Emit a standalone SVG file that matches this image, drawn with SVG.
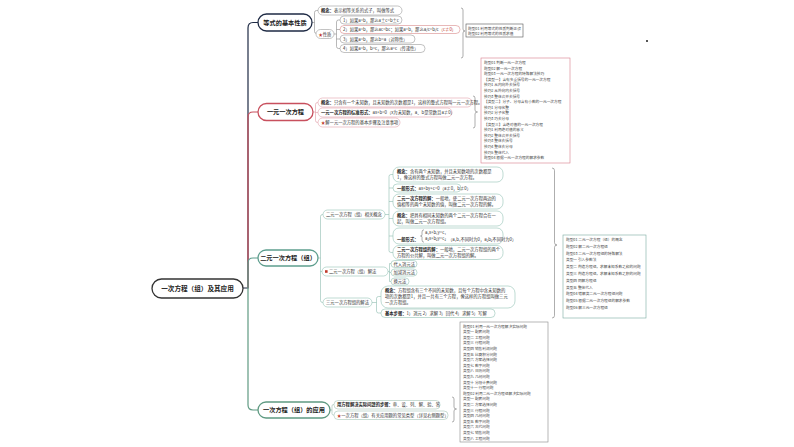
<svg xmlns="http://www.w3.org/2000/svg" width="794" height="447" viewBox="0 0 794 447">
<style>
text{font-family:"Noto Sans CJK SC","Noto Sans","DejaVu Sans",sans-serif;fill:#333}
.t1{font-size:6.2px;font-weight:bold;fill:#222}
.t0{font-size:6.6px;font-weight:bold;fill:#222}
.t{font-size:4.3px}
.ls{font-size:3.7px;fill:#444}
.bd{font-weight:bold;fill:#222}
.red{fill:#c0392b}
.n0{fill:#fff;stroke:#1e2a44;stroke-width:1.3}
.n1{fill:#fff;stroke:#c8505e;stroke-width:1.3}
.n2{fill:#fff;stroke:#5e9e8e;stroke-width:1.3}
.n3{fill:#fff;stroke:#5f9a82;stroke-width:1.3}
.nc{fill:#fff;stroke:#333;stroke-width:1.3}
.l0{fill:#fff;stroke:#9a9a9a;stroke-width:0.6}
.l1{fill:#fff;stroke:#e3a1ab;stroke-width:0.6}
.l2{fill:#fff;stroke:#94c2b6;stroke-width:0.6}
.l3{fill:#fff;stroke:#a4c4b6;stroke-width:0.6}
.lr{fill:#fff;stroke:#d98a8a;stroke-width:0.6}
.c0{fill:none;stroke:#1e2a44;stroke-width:1.2}
.c1{fill:none;stroke:#c8505e;stroke-width:1.2}
.c2{fill:none;stroke:#5e9e8e;stroke-width:1.2}
.c3{fill:none;stroke:#5f9a82;stroke-width:1.2}
.s0{fill:none;stroke:#8a8a8a;stroke-width:0.6}
.s1{fill:none;stroke:#e09aa5;stroke-width:0.6}
.s2{fill:none;stroke:#8fbcb0;stroke-width:0.6}
.s3{fill:none;stroke:#9cbcae;stroke-width:0.6}
.br{fill:none;stroke:#777;stroke-width:0.6}
.bx0{fill:#fff;stroke:#555;stroke-width:0.6}
.bx1{fill:#fff;stroke:#d77c8a;stroke-width:0.6}
.bx2{fill:#fff;stroke:#7aaaa0;stroke-width:0.6}
.bx3{fill:#fff;stroke:#888;stroke-width:0.6}
</style>
<rect width="794" height="447" fill="#fff"/>

<g id="connectors">
  <!-- trunk -->
  <path class="c0" d="M243,288 H248 V28 Q248,22.5 253,22.5 H258"/>
  <path class="c1" d="M248,288 V117 Q248,112 253,112 H258"/>
  <path class="c2" d="M248,288 V263 Q248,258 253,258 H258"/>
  <path class="c3" d="M248,288 V405 Q248,410 253,410 H258"/>
  <!-- 等式 -->
  <path class="s0" d="M312,22.5 H314.5 M318,10.5 H316.5 Q314.5,10.5 314.5,12.5 V31.5 Q314.5,33.5 316.5,33.5 H316"/>
  <path class="s0" d="M334,34 H336.5 M340,20 H338.5 Q336.5,20 336.5,22 V46.5 Q336.5,48.5 338.5,48.5 H340 M336.5,29.5 H340 M336.5,39 H340"/>
  <!-- 一元 -->
  <path class="s1" d="M313,112 H315.5 M318,102.5 H317.5 Q315.5,102.5 315.5,104.5 V120.5 Q315.5,122.5 317.5,122.5 H318 M315.5,112.5 H318"/>
  <!-- 二元 -->
  <path class="s2" d="M318,258 H320.5 M323,214.5 H322.5 Q320.5,214.5 320.5,216.5 V300.5 Q320.5,302.5 322.5,302.5 H323 M320.5,271.5 H322"/>
  <path class="s2" d="M385,214.5 H389 M393,174.5 H391 Q389,174.5 389,176.5 V250.5 Q389,252.5 391,252.5 H393 M389,188 H393 M389,201.5 H393 M389,218.5 H393 M389,236 H393"/>
  <path class="s2" d="M388,271.5 H389.5 M391,263.5 H389.5 V281.5 H391 M389.5,272.5 H391"/>
  <path class="s2" d="M372,302.5 H376.5 M381,296.5 H378.5 Q376.5,296.5 376.5,298.5 V311 Q376.5,313 378.5,313 H381"/>
  <!-- 应用 -->
  <path class="s3" d="M330,410 H332 M334,404.5 H333.5 Q332,404.5 332,406 V413.5 Q332,415 333.5,415 H334"/>
  <!-- braces -->
  <path class="br" d="M461,8 Q463,8 463,10 V29 Q463,31 465,31 Q463,31 463,33 V56 Q463,58 461,58"/>
  <path class="br" d="M473,96 Q475,96 475,98 V110 Q475,112 477.5,112 Q475,112 475,114 V126 Q475,128 473,128"/>
  <path class="br" d="M552,168 Q554.5,168 554.5,170.5 V242.5 Q554.5,245 557,245 Q554.5,245 554.5,247.5 V315.5 Q554.5,318 552,318"/>
  <path class="br" d="M452,397 Q454,397 454,399 V407 Q454,409 456.5,409 Q454,409 454,411 V420 Q454,422 452,422"/>
</g>

<g id="center">
  <rect class="nc" x="152" y="279" width="91" height="19" rx="9.5"/>
  <text class="t0" x="197.5" y="290.8" text-anchor="middle">一次方程（组）及其应用</text>
</g>

<g id="n-dengshi">
  <rect class="n0" x="258" y="14" width="54" height="17" rx="8.5"/>
  <text class="t1" x="285" y="24.7" text-anchor="middle">等式的基本性质</text>
</g>
<g id="n-dengshi-gainian">
  <rect class="l0" x="318" y="6" width="84" height="9" rx="4.5"/>
  <text class="t" x="321" y="12"><tspan class="bd">概念：</tspan>表示相等关系的式子，叫做等式</text>
</g>
<g id="n-xingzhi">
  <rect class="l0" x="316" y="29.5" width="18" height="9" rx="4.5"/>
  <text class="t" x="318.5" y="35.5"><tspan class="red">★</tspan>性质</text>
</g>
<g id="n-xz1">
  <rect class="l0" x="340" y="16" width="62" height="8" rx="4"/>
  <text class="t" x="343" y="21.5">1）如果a=b，那么a±c=b±c</text>
</g>
<g id="n-xz2">
  <rect class="lr" x="340" y="25.5" width="120" height="8" rx="4"/>
  <text class="t" x="343" y="31">2）如果a=b，那么ac=bc；如果a=b，那么a/c=b/c<tspan class="red">（c≠0）</tspan></text>
</g>
<g id="n-xz3">
  <rect class="l0" x="340" y="35" width="75" height="8" rx="4"/>
  <text class="t" x="343" y="40.5">3）如果a=b，那么b=a（对称性）</text>
</g>
<g id="n-xz4">
  <rect class="l0" x="340" y="44.5" width="85" height="8" rx="4"/>
  <text class="t" x="343" y="50">4）如果a=b，b=c，那么a=c（传递性）</text>
</g>
<g id="list-dengshi">
  <rect class="bx0" x="466" y="24" width="57" height="13"/>
  <text class="ls" x="468" y="29.5">题型01 利用等式的性质判断正误</text>
  <text class="ls" x="468" y="34.8">题型02 利用等式的性质求值</text>
</g>
<rect x="646" y="40" width="2" height="2" fill="#555"/>

<g id="n-yiyuan">
  <rect class="n1" x="258" y="103.5" width="55" height="17" rx="8.5"/>
  <text class="t1" x="285.5" y="114.2" text-anchor="middle">一元一次方程</text>
</g>
<g id="n-yy1">
  <rect class="l1" x="318" y="98" width="154" height="9" rx="4.5"/>
  <text class="t" x="321" y="104"><tspan class="bd">概念：</tspan>只含有一个未知数，且未知数的次数都是1，这样的整式方程叫一元一次方程。</text>
</g>
<g id="n-yy2">
  <rect class="l1" x="318" y="108" width="134" height="9" rx="4.5"/>
  <text class="t" x="321" y="114"><tspan class="bd">一元一次方程的标准形式：</tspan>ax+b=0（x为未知数，a、b是常数且a≠0）</text>
</g>
<g id="n-yy3">
  <rect class="l1" x="318" y="118" width="82" height="9" rx="4.5"/>
  <text class="t" x="321" y="124"><tspan class="red">★</tspan>解一元一次方程的基本步骤及注意事项</text>
</g>
<g id="list-yiyuan">
  <rect class="bx1" x="481" y="58" width="89" height="105"/>
  <text class="ls" x="484" y="64">题型01 判断一元一次方程</text>
  <text class="ls" x="484" y="69.6">题型02 解一元一次方程</text>
  <text class="ls" x="484" y="75.2">题型03 一元一次方程的特殊解法技巧</text>
  <text class="ls" x="484" y="80.8">【类型一】含有多重括号的一元一次方程</text>
  <text class="ls" x="484" y="86.4">技巧1 从内向外去括号</text>
  <text class="ls" x="484" y="92">技巧2 从外向内去括号</text>
  <text class="ls" x="484" y="97.6">技巧3 整体合并去括号</text>
  <text class="ls" x="484" y="103.2">【类型二】分子、分母含有小数的一元一次方程</text>
  <text class="ls" x="484" y="108.8">技巧1 分母化整</text>
  <text class="ls" x="484" y="114.4">技巧2 分子化整</text>
  <text class="ls" x="484" y="120">技巧3 巧去分母</text>
  <text class="ls" x="484" y="125.6">【类型三】含绝对值的一元一次方程</text>
  <text class="ls" x="484" y="131.2">技巧1 利用绝对值的意义</text>
  <text class="ls" x="484" y="136.8">技巧2 整体合并去括号</text>
  <text class="ls" x="484" y="142.4">技巧3 整体去括号</text>
  <text class="ls" x="484" y="148">技巧4 整体去分母</text>
  <text class="ls" x="484" y="153.6">技巧5 整体代入</text>
  <text class="ls" x="484" y="159.2">题型04 根据一元一次方程的解求参数</text>
</g>

<g id="n-eryuan">
  <rect class="n2" x="258" y="250" width="60" height="16" rx="8"/>
  <text class="t1" x="288" y="260.2" text-anchor="middle">二元一次方程（组）</text>
</g>
<g id="n-xiangguan">
  <rect class="l2" x="323" y="210" width="62" height="9" rx="4.5"/>
  <text class="t" x="326" y="216">二元一次方程（组）相关概念</text>
</g>
<g id="n-er-a">
  <rect class="l2" x="393" y="167" width="110" height="15" rx="6"/>
  <text class="t" x="397" y="173.2"><tspan class="bd">概念：</tspan>含有两个未知数，并且未知数项的次数都是</text>
  <text class="t" x="397" y="179.2">1，像这样的整式方程叫做二元一次方程。</text>
</g>
<g id="n-er-b">
  <rect class="l2" x="393" y="184" width="68" height="8" rx="4"/>
  <text class="t" x="397" y="189.5"><tspan class="bd">一般形式：</tspan>ax+by+c=0（a≠0，b≠0）</text>
</g>
<g id="n-er-c">
  <rect class="l2" x="393" y="194" width="110" height="15" rx="6"/>
  <text class="t" x="397" y="200.2"><tspan class="bd">二元一次方程的解：</tspan>一般地，使二元一次方程两边的</text>
  <text class="t" x="397" y="206.2">值相等的两个未知数的值，叫做二元一次方程的解。</text>
</g>
<g id="n-er-d">
  <rect class="l2" x="393" y="211" width="110" height="15" rx="6"/>
  <text class="t" x="397" y="217.2"><tspan class="bd">概念：</tspan>把具有相同未知数的两个二元一次方程合在一</text>
  <text class="t" x="397" y="223.2">起，叫做二元一次方程组。</text>
</g>
<g id="n-er-e">
  <rect class="l2" x="393" y="228" width="110" height="16" rx="6"/>
  <text class="t" x="397" y="240.5"><tspan class="bd">一般形式：</tspan></text>
  <path d="M424,229.8 Q422,229.8 422,232 V234.8 Q422,236 420.5,236 Q422,236 422,237.2 V240 Q422,242.2 424,242.2" fill="none" stroke="#333" stroke-width="0.4"/>
  <text class="t" x="425" y="234">a₁x+b₁y=c₁</text>
  <text class="t" x="425" y="240">a₂x+b₂y=c₂</text>
  <text class="t" x="448" y="240.5">（a₁b₁不同时为0，a₂b₂不同时为0）</text>
</g>
<g id="n-er-f">
  <rect class="l2" x="393" y="245.5" width="110" height="14" rx="6"/>
  <text class="t" x="397" y="251.3"><tspan class="bd">二元一次方程组的解：</tspan>一般地，二元一次方程组的两个</text>
  <text class="t" x="397" y="257">方程的公共解，叫做二元一次方程组的解。</text>
</g>
<g id="n-jiefa">
  <rect class="l2" x="322" y="267" width="66" height="9" rx="4.5"/>
  <rect x="325" y="270.2" width="2.6" height="2.6" fill="#c0392b"/>
  <text class="t" x="329" y="273">二元一次方程（组）解法</text>
</g>
<g id="n-daiRu">
  <rect class="l2" x="391" y="260.5" width="26" height="7" rx="3.5"/>
  <text class="t" x="393.5" y="265.5">代入消元法</text>
</g>
<g id="n-jiajian">
  <rect class="l2" x="391" y="269" width="26" height="7" rx="3.5"/>
  <text class="t" x="393.5" y="274">加减消元法</text>
</g>
<g id="n-huanyuan">
  <rect class="l2" x="391" y="278" width="18" height="7" rx="3.5"/>
  <text class="t" x="393.5" y="283">换元法</text>
</g>
<g id="n-sanyuan">
  <rect class="l2" x="323" y="298" width="49" height="9" rx="4.5"/>
  <text class="t" x="326" y="304">三元一次方程组的解法</text>
</g>
<g id="n-sy1">
  <rect class="l2" x="381" y="286" width="134" height="22" rx="7"/>
  <text class="t" x="385" y="292.2"><tspan class="bd">概念：</tspan>方程组含有三个不同的未知数，且每个方程中含未知数的</text>
  <text class="t" x="385" y="298.2">项的次数都是1，并且一共有三个方程，像这样的方程组叫做三元</text>
  <text class="t" x="385" y="304.2">一次方程组。</text>
</g>
<g id="n-sy2">
  <rect class="l2" x="381" y="309" width="114" height="8.5" rx="4"/>
  <text class="t" x="385" y="314.8"><tspan class="bd">基本步骤：</tspan>1）消元 2）求解 3）回代 4）求解 5）写解</text>
</g>
<g id="list-eryuan">
  <rect class="bx2" x="563" y="235" width="83" height="83"/>
  <text class="ls" x="566" y="241">题型01 二元一次方程（组）的概念</text>
  <text class="ls" x="566" y="247.8">题型02 解二元一次方程组</text>
  <text class="ls" x="566" y="254.6">题型03 二元一次方程组的特殊解法</text>
  <text class="ls" x="566" y="261.4">类型一 引入参数法</text>
  <text class="ls" x="566" y="268.2">类型二 构造方程组，求解未知系数之和的问题</text>
  <text class="ls" x="566" y="275">类型三 构造方程组，求解未知系数之积的问题</text>
  <text class="ls" x="566" y="281.8">类型四 同解方程组</text>
  <text class="ls" x="566" y="288.6">类型五 整体代入</text>
  <text class="ls" x="566" y="295.4">题型04 错解类二元一次方程组问题</text>
  <text class="ls" x="566" y="302.2">题型05 根据二元一次方程组的解求参数</text>
  <text class="ls" x="566" y="309">题型06 解三元一次方程组</text>
</g>

<g id="n-yingyong">
  <rect class="n3" x="258" y="402" width="72" height="16" rx="8"/>
  <text class="t1" x="294" y="412.2" text-anchor="middle">一次方程（组）的应用</text>
</g>
<g id="n-yy-a">
  <rect class="l3" x="334" y="400.5" width="106" height="8.5" rx="4"/>
  <text class="t" x="337" y="406.3"><tspan class="bd">用方程解决实际问题的步骤：</tspan>审、设、列、解、验、答</text>
</g>
<g id="n-yy-b">
  <rect class="l3" x="334" y="411" width="114" height="8.5" rx="4"/>
  <text class="t" x="337" y="416.8"><tspan class="red">★</tspan>一次方程（组）有关应用题的常见类型（详见右侧题型）</text>
</g>
<g id="list-yingyong">
  <rect class="bx3" x="460" y="322" width="88" height="120"/>
  <text class="ls" x="463" y="327.5">题型01 利用一元一次方程解决实际问题</text>
  <text class="ls" x="463" y="333.1">类型一 配套问题</text>
  <text class="ls" x="463" y="338.7">类型二 工程问题</text>
  <text class="ls" x="463" y="344.3">类型三 行程问题</text>
  <text class="ls" x="463" y="349.9">类型四 销售利润问题</text>
  <text class="ls" x="463" y="355.5">类型五 比赛积分问题</text>
  <text class="ls" x="463" y="361.1">类型六 方案选择问题</text>
  <text class="ls" x="463" y="366.7">类型七 数字问题</text>
  <text class="ls" x="463" y="372.3">类型八 日历问题</text>
  <text class="ls" x="463" y="377.9">类型九 几何问题</text>
  <text class="ls" x="463" y="383.5">类型十 分段计费问题</text>
  <text class="ls" x="463" y="389.1">类型十一 行程问题</text>
  <text class="ls" x="463" y="394.7">题型02 利用二元一次方程组解决实际问题</text>
  <text class="ls" x="463" y="400.3">类型一 配套问题</text>
  <text class="ls" x="463" y="405.9">类型二 方案选择问题</text>
  <text class="ls" x="463" y="411.5">类型三 行程问题</text>
  <text class="ls" x="463" y="417.1">类型四 几何问题</text>
  <text class="ls" x="463" y="422.7">类型五 数字问题</text>
  <text class="ls" x="463" y="428.3">类型六 古代问题</text>
  <text class="ls" x="463" y="433.9">类型七 销售问题</text>
  <text class="ls" x="463" y="439.5">类型八 工程问题</text>
</g>
</svg>
